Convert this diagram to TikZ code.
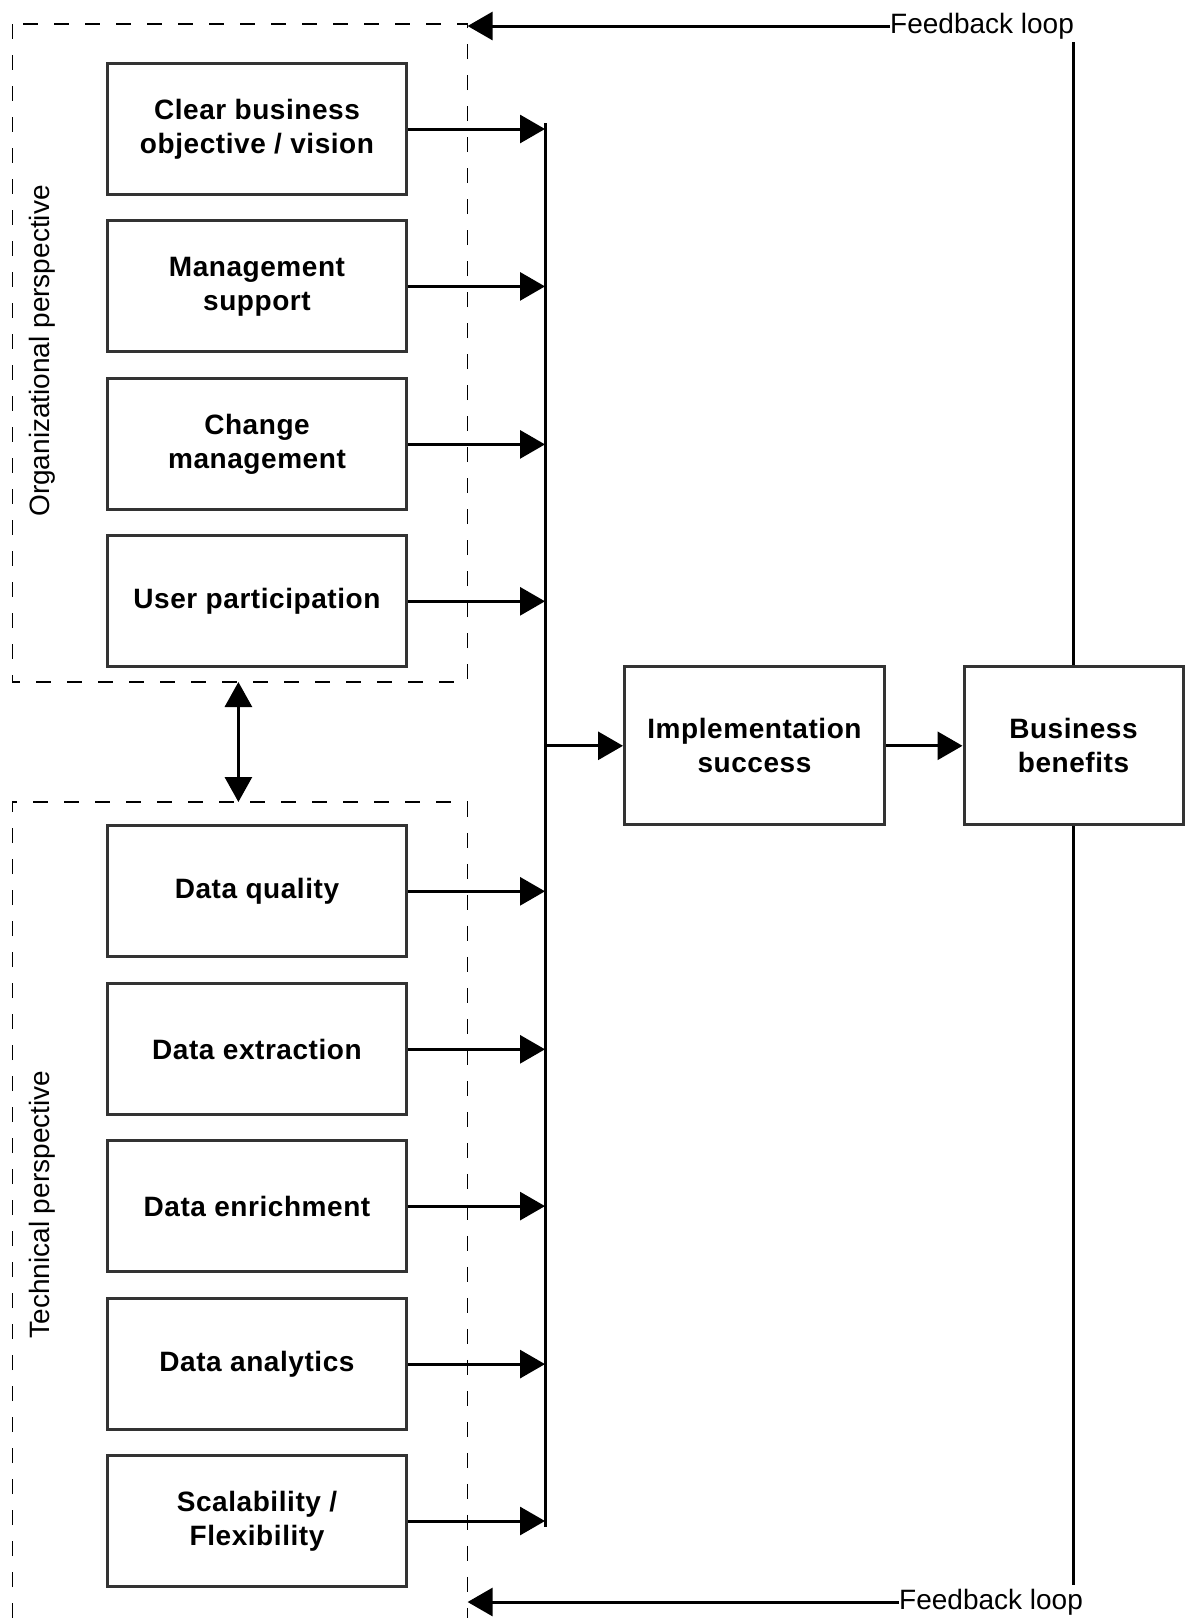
\documentclass[tikz,border=0pt]{standalone}
\usepackage{fontspec}
\setmainfont{Liberation Sans}
\usetikzlibrary{arrows.meta}
\tikzset{
	factor/.style={draw=black!80,line width=3pt,minimum width=299pt,minimum height=131pt,align=center,inner sep=0pt,font=\fontsize{28}{34}\selectfont\bfseries\addfontfeatures{LetterSpace=2}},
	frame/.style={dash pattern=on 15pt off 16pt,line width=1.6pt},
	link/.style={-{Triangle[length=25pt,width=28pt]},line width=3pt},
	plain/.style={inner sep=0pt,font=\fontsize{28}{34}\selectfont},
}
\begin{document}
\begin{tikzpicture}[x=1pt,y=-1pt]
	\useasboundingbox (0,0) rectangle (1185,1618);
	% perspective frames
	\coordinate (orgnw) at (12.4,24);
	\coordinate (orgse) at (467.6,682);
	\coordinate (techtop) at (238.4,802);
	\draw[frame] (orgnw) rectangle (orgse);
	\draw[frame] (12.4,1618) -- (12.4,802) -- (467.6,802) -- (467.6,1618);
	\draw [{Triangle[length=25pt,width=27pt]}-{Triangle[length=25pt,width=27pt]},line width=3pt] (238.4,682) -- (techtop);
	\node [plain,rotate=90] (orglabel) at (42.3,351) {Organizational perspective};
	\node [plain,rotate=90] (techlabel) at (42.3,1204.6) {Technical perspective};
	% factor boxes
	\node [factor] (B1) at (257,129) {Clear business\\objective / vision};
	\node [factor] (B2) at (257,286.4) {Management\\support};
	\node [factor] (B3) at (257,444.4) {Change\\management};
	\node [factor] (B4) at (257,601.3) {User participation};
	\node [factor] (B5) at (257,891.3) {Data quality};
	\node [factor] (B6) at (257,1049.3) {Data extraction};
	\node [factor] (B7) at (257,1206.1) {Data enrichment};
	\node [factor] (B8) at (257,1364.1) {Data analytics};
	\node [factor] (B9) at (257,1521) {Scalability /\\Flexibility};
	% collecting bus
	\coordinate (bustop) at (545,123);
	\coordinate (busbot) at (545,1527);
	\draw [line width=3pt] (bustop) -- (busbot);
	\draw [link] (B1.east) -- (B1.east -| bustop);
	\draw [link] (B2.east) -- (B2.east -| bustop);
	\draw [link] (B3.east) -- (B3.east -| bustop);
	\draw [link] (B4.east) -- (B4.east -| bustop);
	\draw [link] (B5.east) -- (B5.east -| bustop);
	\draw [link] (B6.east) -- (B6.east -| bustop);
	\draw [link] (B7.east) -- (B7.east -| bustop);
	\draw [link] (B8.east) -- (B8.east -| bustop);
	\draw [link] (B9.east) -- (B9.east -| bustop);
	% outcome
	\node [factor,minimum width=260pt,minimum height=158pt] (impl) at (754.5,745.8) {Implementation\\success};
	\node [factor,minimum width=219pt,minimum height=158pt] (biz) at (1073.5,745.8) {Business\\benefits};
	\draw [link] (impl.west -| bustop) -- (impl.west);
	\draw [link] (impl) -- (biz);
	% feedback loops
	\coordinate (looptop) at (1073.5,42);
	\coordinate (loopbot) at (1073.5,1585);
	\draw [line width=3pt] (looptop) -- (biz.north);
	\draw [line width=3pt] (biz.south) -- (loopbot);
	\node [plain,anchor=west] (fbtop) at (890,26) {Feedback loop};
	\node [plain,anchor=west] (fbbot) at (899,1602) {Feedback loop};
	\draw [link] (fbtop.west) -- (fbtop.west -| orgse);
	\draw [link] (fbbot.west) -- (fbbot.west -| orgse);
\end{tikzpicture}
\end{document}
